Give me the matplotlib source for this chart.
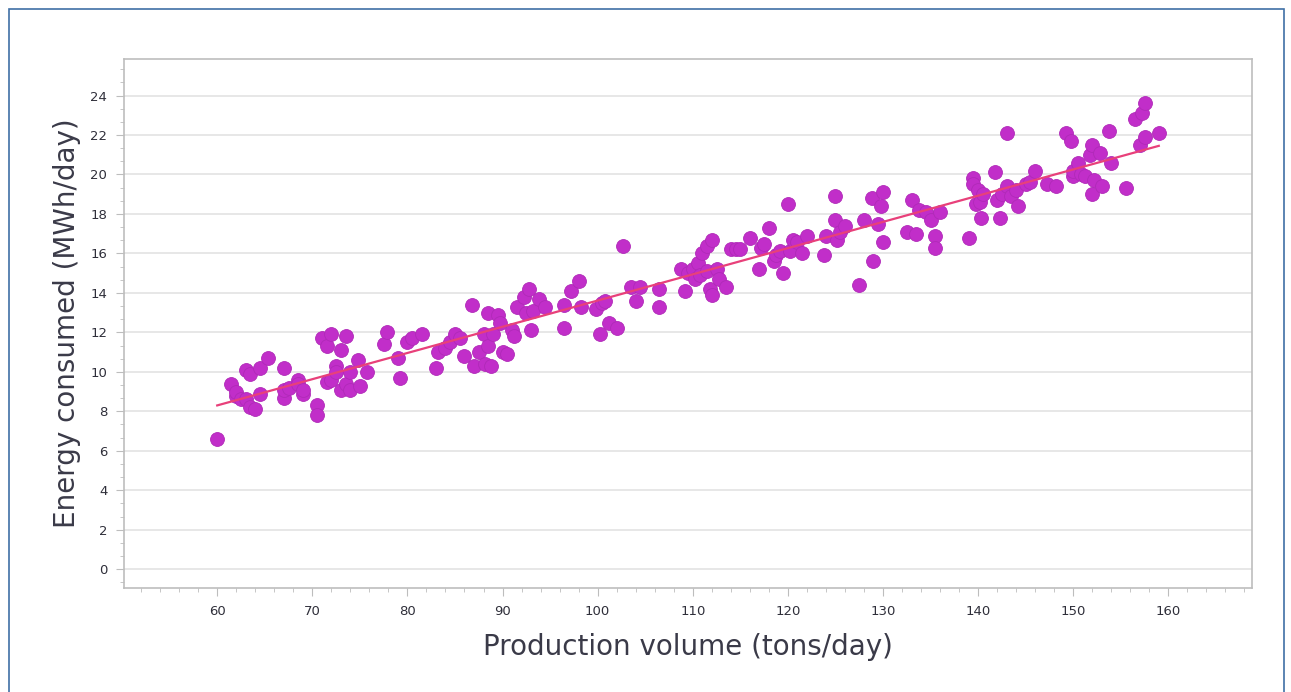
"""Energy consumed vs production volume scatter with trend line -> out.png"""
import matplotlib
matplotlib.use("Agg")
import matplotlib.pyplot as plt
from matplotlib.patches import Rectangle
from matplotlib.ticker import MultipleLocator

# production volume (tons/day)
volume = [
    60.0, 61.5, 62.0, 62.0, 62.5, 63.0, 63.0, 63.5, 63.5, 64.0, 64.5, 64.5, 65.3,
    67.0, 67.0, 67.0, 67.5, 68.5, 68.5, 69.0, 69.0, 70.5, 70.5, 71.0, 71.5, 71.5,
    72.0, 72.0, 72.5, 72.5, 73.0, 73.0, 73.5, 73.5, 74.0, 74.0, 74.8, 75.0, 75.8,
    77.5, 77.8, 79.0, 79.2, 80.0, 80.5, 81.5, 83.0, 83.2, 84.0, 84.5, 85.0, 85.5,
    86.0, 86.8, 87.0, 87.5, 88.0, 88.2, 88.5, 88.5, 88.8, 89.0, 89.5, 89.7, 90.0,
    90.5, 91.0, 91.2, 91.5, 92.3, 92.8, 92.5, 93.0, 93.2, 93.8, 94.5, 96.5, 96.5,
    97.2, 98.0, 98.3, 99.8, 100.2, 100.5, 100.8, 101.2, 102.0, 102.7, 103.5, 104.0,
    104.5, 106.5, 106.5, 108.8, 109.2, 109.5, 110.0, 110.2, 110.5, 110.8, 111.0,
    111.5, 111.5, 111.8, 112.0, 112.0, 112.5, 112.8, 113.5, 114.0, 114.5, 115.0,
    116.0, 117.0, 117.2, 117.5, 118.0, 118.5, 118.8, 119.2, 119.5, 120.0, 120.2,
    120.5, 121.0, 121.5, 122.0, 123.8, 124.0, 125.0, 125.0, 125.2, 125.5, 126.0,
    127.5, 128.0, 128.8, 129.0, 129.5, 129.8, 130.0, 130.0, 132.5, 133.0, 133.5,
    133.8, 134.5, 135.0, 135.5, 135.5, 136.0, 139.0, 139.5, 139.5, 139.8, 140.0,
    140.2, 140.3, 140.5, 141.8, 142.0, 142.3, 142.5, 143.0, 143.0, 143.5, 144.0,
    144.2, 145.0, 145.5, 146.0, 147.2, 148.2, 149.2, 149.8, 150.0, 150.0, 150.5,
    150.8, 151.2, 151.8, 152.0, 152.0, 152.2, 152.8, 153.0, 153.8, 154.0, 155.5,
    156.5, 157.0, 157.2, 157.5, 157.5, 159.0,
]
# energy consumed (MWh/day)
energy = [
    6.6, 9.4, 8.8, 9.0, 8.6, 10.1, 8.6, 8.2, 9.9, 8.1, 10.2, 8.9, 10.7,
    10.2, 8.7, 9.1, 9.2, 9.6, 9.4, 8.9, 9.1, 8.3, 7.8, 11.7, 11.3, 9.5,
    11.9, 9.6, 10.3, 10.0, 11.1, 9.1, 9.4, 11.8, 10.0, 9.1, 10.6, 9.3, 10.0,
    11.4, 12.0, 10.7, 9.7, 11.5, 11.7, 11.9, 10.2, 11.0, 11.2, 11.5, 11.9, 11.7,
    10.8, 13.4, 10.3, 11.0, 11.9, 10.4, 13.0, 11.3, 10.3, 11.9, 12.9, 12.5, 11.0,
    10.9, 12.1, 11.8, 13.3, 13.8, 14.2, 13.0, 12.1, 13.1, 13.7, 13.3, 12.2, 13.4,
    14.1, 14.6, 13.3, 13.2, 11.9, 13.5, 13.6, 12.5, 12.2, 16.4, 14.3, 13.6,
    14.3, 14.2, 13.3, 15.2, 14.1, 15.0, 15.2, 14.7, 15.5, 14.9, 16.0,
    15.1, 16.4, 14.2, 13.9, 16.7, 15.2, 14.7, 14.3, 16.2, 16.2, 16.2,
    16.8, 15.2, 16.3, 16.5, 17.3, 15.6, 15.9, 16.1, 15.0, 18.5, 16.1,
    16.7, 16.6, 16.0, 16.9, 15.9, 16.9, 18.9, 17.7, 16.7, 17.1, 17.4,
    14.4, 17.7, 18.8, 15.6, 17.5, 18.4, 19.1, 16.6, 17.1, 18.7, 17.0,
    18.2, 18.1, 17.7, 16.9, 16.3, 18.1, 16.8, 19.8, 19.5, 18.5, 19.2,
    18.6, 17.8, 19.0, 20.1, 18.7, 17.8, 19.0, 19.4, 22.1, 18.9, 19.2,
    18.4, 19.5, 19.6, 20.2, 19.5, 19.4, 22.1, 21.7, 19.9, 20.2, 20.6,
    20.0, 19.9, 21.0, 21.5, 19.0, 19.7, 21.1, 19.4, 22.2, 20.6, 19.3,
    22.8, 21.5, 23.1, 23.6, 21.9, 22.1,
]
# trend line end points as drawn
trend_x = [60.0, 159.0]
trend_y = [8.3, 21.45]

fig = plt.figure(figsize=(12.91, 6.92), dpi=100)
ax = fig.add_axes([124 / 1291, 1 - 588 / 692, (1252 - 124) / 1291, (588 - 59) / 692])

# outer blue frame of the chart area
fig.patches.append(Rectangle((9 / 1291, -0.05), (1284 - 9) / 1291, 1.05 - 9 / 692,
                             transform=fig.transFigure, fill=False,
                             edgecolor="#3F70A6", lw=1.2))

ax.scatter(volume, energy, s=100, color="#C12EC9", edgecolors="#B02AB8",
           linewidths=0.6, zorder=3)
ax.plot(trend_x, trend_y, color="#E8407A", lw=1.6, zorder=4)

ax.set_xlim(50.2, 168.8)
ax.set_ylim(-0.95, 25.85)
ax.xaxis.set_major_locator(MultipleLocator(10))
ax.xaxis.set_minor_locator(MultipleLocator(2))
ax.yaxis.set_major_locator(MultipleLocator(2))
ax.yaxis.set_minor_locator(MultipleLocator(2 / 3))
ax.set_xticks(range(60, 161, 10))

ax.grid(axis="y", which="major", color="#E3E3E3", lw=1.2)
ax.set_axisbelow(True)
for spine in ax.spines.values():
    spine.set_color("#BDBDBD")
    spine.set_linewidth(1.2)
ax.tick_params(which="major", length=6, color="#BDBDBD", labelsize=9.5,
               labelcolor="#2F2F3A", pad=6)
ax.tick_params(which="minor", length=3, color="#BDBDBD")

ax.set_xlabel("Production volume (tons/day)", fontsize=20, color="#3A3A48", labelpad=11)
ax.set_ylabel("Energy consumed (MWh/day)", fontsize=20, color="#3A3A48", labelpad=7)

fig.savefig("out.png", dpi=100)
